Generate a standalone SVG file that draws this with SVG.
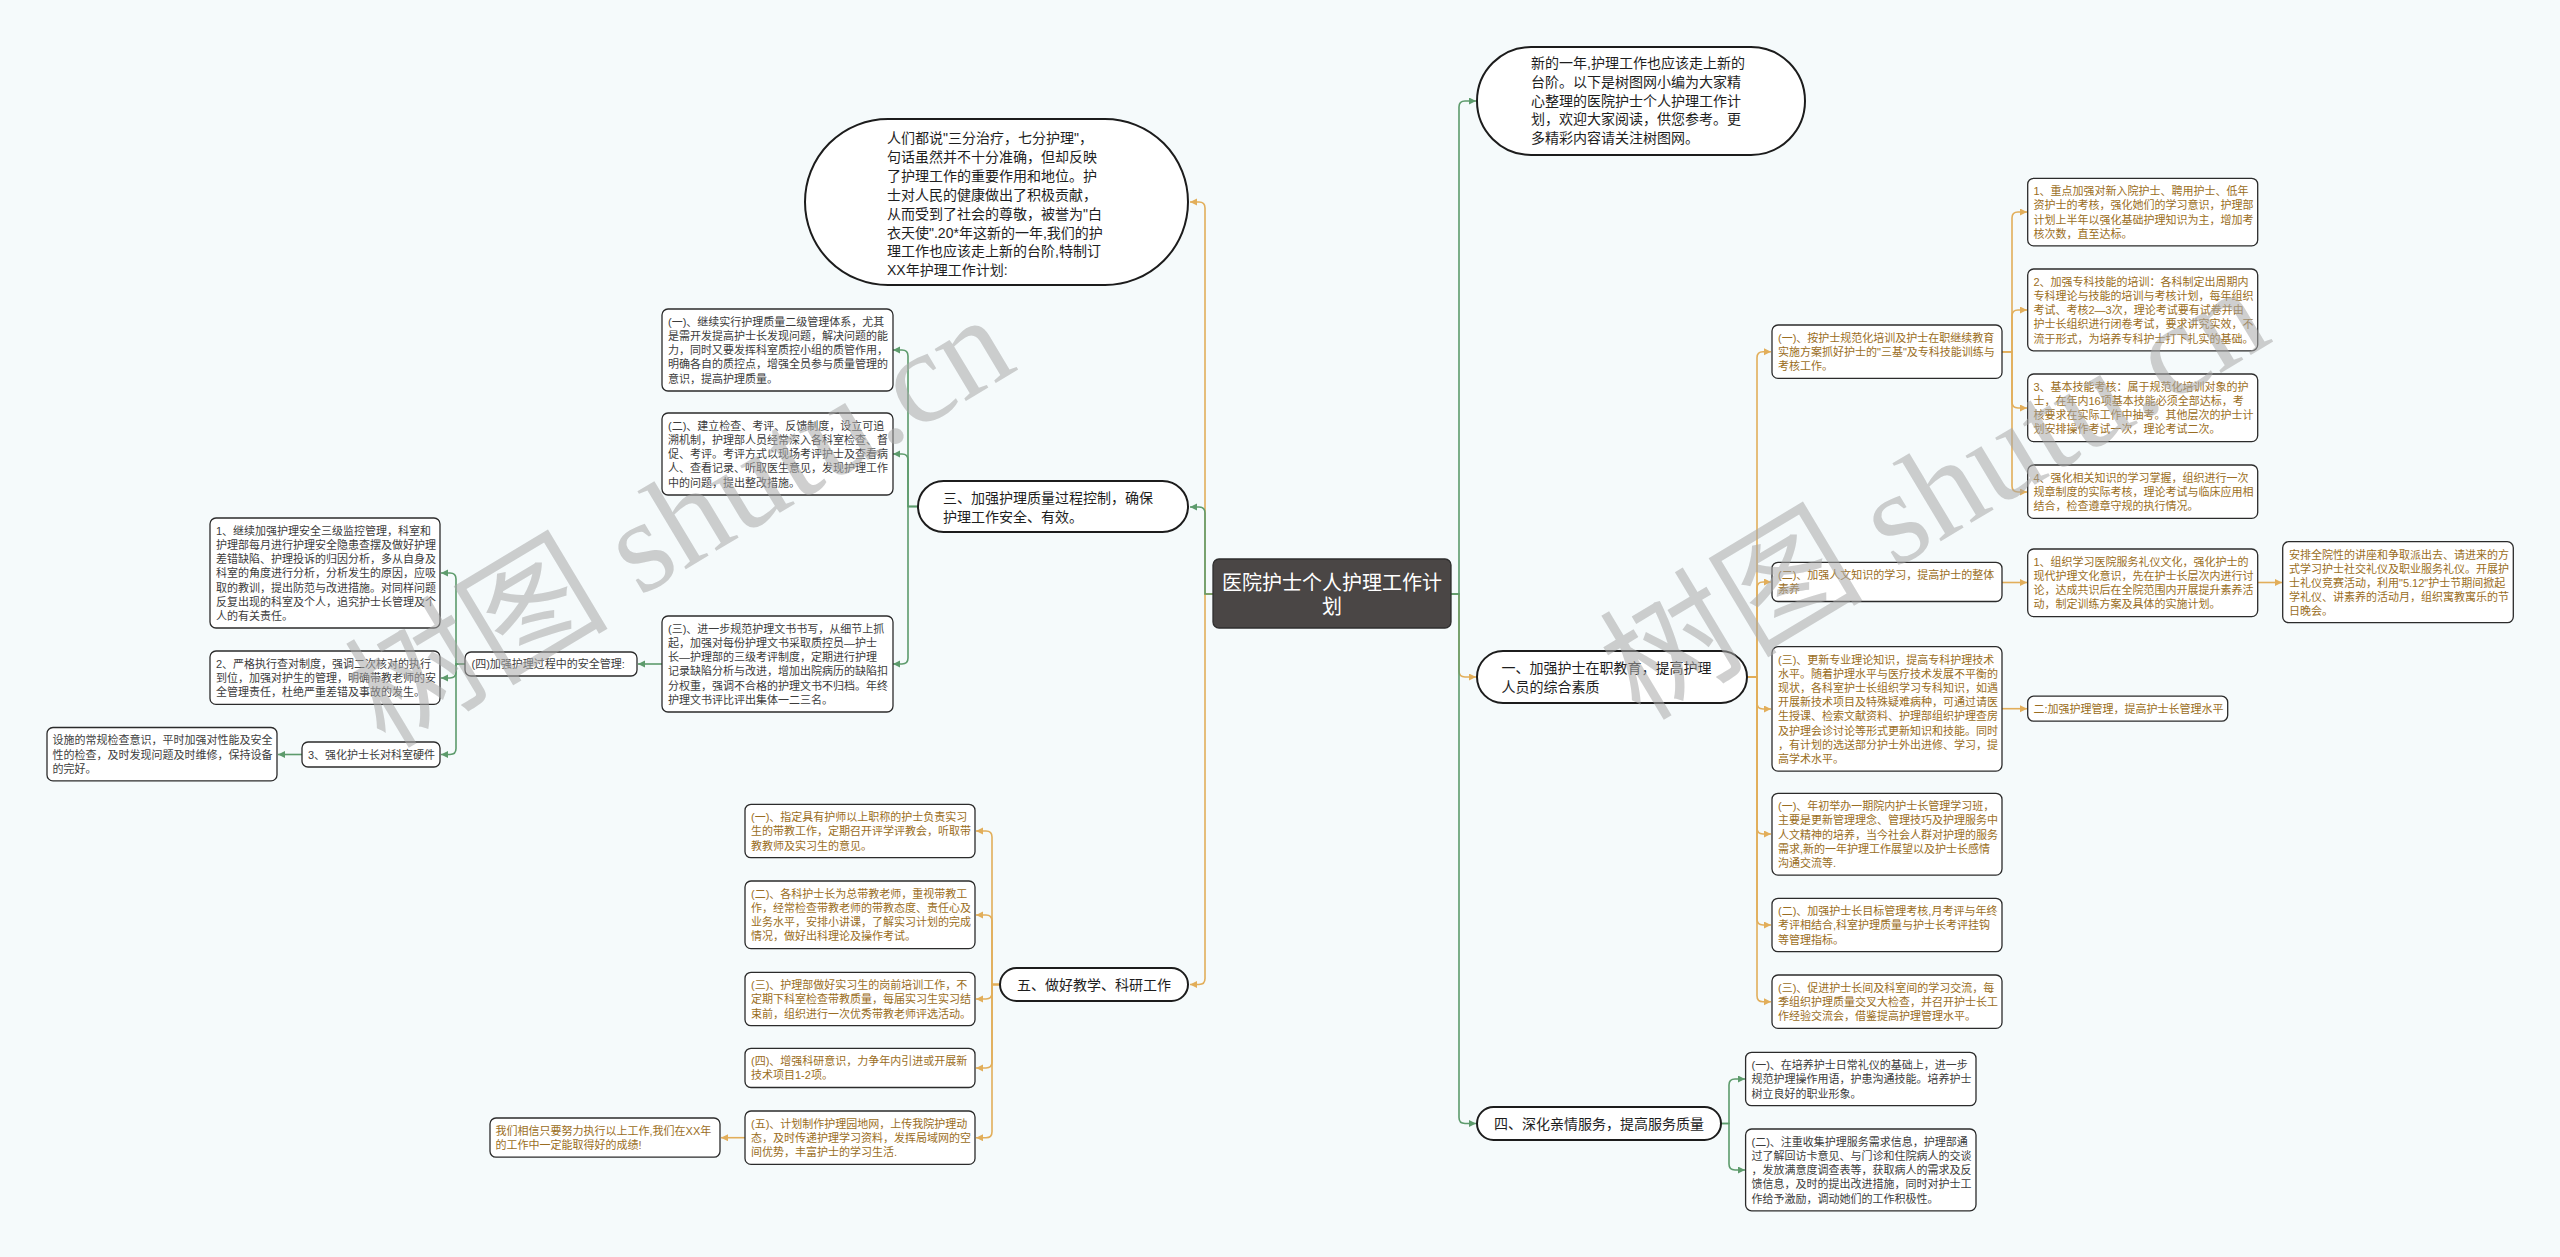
<svg xmlns="http://www.w3.org/2000/svg" width="2560" height="1257" viewBox="0 0 2560 1257">
<defs>
<style>
.box{fill:#fff;stroke:#2b2b2b;stroke-width:1.3}
.bub{fill:#fff;stroke:#1c1c1c;stroke-width:2}
text{font-family:"Liberation Sans","Noto Sans CJK SC",sans-serif}
.o{font-size:11px;fill:#9a6d22}
.g{font-size:11px;fill:#3c3c3c}
.b{font-size:14px;fill:#1e1e1e}
.r{font-size:20px;fill:#fff}
.co{fill:none;stroke:#e2ae5a;stroke-width:1.6}
.cg{fill:none;stroke:#5d9b6c;stroke-width:1.6}
.wm{font-family:"Liberation Serif","Noto Sans CJK SC",serif;font-size:132px;fill:#a8a8a8;fill-opacity:0.55}
</style>
<marker id="ao" markerUnits="userSpaceOnUse" markerWidth="8" markerHeight="8" refX="7" refY="3.5" orient="auto"><path d="M0,0 L7,3.5 L0,7 z" fill="#e2ae5a"/></marker>
<marker id="ag" markerUnits="userSpaceOnUse" markerWidth="8" markerHeight="8" refX="7" refY="3.5" orient="auto"><path d="M0,0 L7,3.5 L0,7 z" fill="#5d9b6c"/></marker>
</defs>
<rect width="2560" height="1257" fill="#f5fafb"/>

<g id="connectors">
<g class="co" marker-end="url(#ao)">
<path d="M1213 594 H1205 V208 Q1205 202 1199 202 H1190"/>
<path d="M1213 594 H1205 V978.5 Q1205 984.5 1199 984.5 H1190"/>
<path d="M1451 594 H1459 V671 Q1459 677 1465 677 H1476"/>
<path d="M1000 984.5 H992 V837 Q992 831 986 831 H976"/>
<path d="M1000 984.5 H992 V921 Q992 915 986 915 H976"/>
<path d="M1000 984.5 H992 V993 Q992 999 986 999 H976"/>
<path d="M1000 984.5 H992 V1062 Q992 1068 986 1068 H976"/>
<path d="M1000 984.5 H992 V1131.7 Q992 1137.7 986 1137.7 H976"/>
<path d="M745 1137.7 H721"/>
<path d="M1747 677 H1757 V357.7 Q1757 351.7 1763 351.7 H1771"/>
<path d="M1747 677 H1757 V588 Q1757 582 1763 582 H1771"/>
<path d="M1747 677 H1757 V703 Q1757 709 1763 709 H1771"/>
<path d="M1747 677 H1757 V828 Q1757 834 1763 834 H1771"/>
<path d="M1747 677 H1757 V919 Q1757 925 1763 925 H1771"/>
<path d="M1747 677 H1757 V995.7 Q1757 1001.7 1763 1001.7 H1771"/>
<path d="M2002 351.7 H2012 V218 Q2012 212 2018 212 H2027"/>
<path d="M2002 351.7 H2012 V316 Q2012 310 2018 310 H2027"/>
<path d="M2002 351.7 H2012 V402 Q2012 408 2018 408 H2027"/>
<path d="M2002 351.7 H2012 V486 Q2012 492 2018 492 H2027"/>
<path d="M2002 582.5 H2027"/>
<path d="M2258 582.5 H2282"/>
<path d="M2002 708.7 H2027"/>
</g>
<g class="cg" marker-end="url(#ag)">
<path d="M1213 594 H1205 V513 Q1205 507 1199 507 H1190"/>
<path d="M1451 594 H1459 V107 Q1459 101 1465 101 H1476"/>
<path d="M1451 594 H1459 V1117.5 Q1459 1123.5 1465 1123.5 H1476"/>
<path d="M918 506.5 H908 V356 Q908 350 902 350 H893"/>
<path d="M918 506.5 H908 V460 Q908 454 902 454 H893"/>
<path d="M918 506.5 H908 V658 Q908 664 902 664 H893"/>
<path d="M662 664 H638"/>
<path d="M465 664 H456 V579 Q456 573 450 573 H441"/>
<path d="M465 664 H456 V672 Q456 678 450 678 H441"/>
<path d="M465 664 H456 V748.5 Q456 754.5 450 754.5 H441"/>
<path d="M302 754.5 H278"/>
<path d="M1721 1123.5 H1729 V1085 Q1729 1079 1735 1079 H1745"/>
<path d="M1721 1123.5 H1729 V1164 Q1729 1170 1735 1170 H1745"/>
</g>
</g>

<g id="root">
<rect x="1213" y="559" width="238" height="69" rx="6" fill="#4a4645" stroke="#2e2e2e" stroke-width="1.3"/>
<text class="r" text-anchor="middle" x="1332" y="590"><tspan x="1332">医院护士个人护理工作计</tspan><tspan x="1332" dy="24">划</tspan></text>
</g>

<g id="intro">
<rect class="bub" x="805" y="119" width="383" height="166" rx="83"/>
<text class="b" x="887" y="143.3"><tspan x="887">人们都说"三分治疗，七分护理"，</tspan><tspan x="887" dy="18.86">句话虽然并不十分准确，但却反映</tspan><tspan x="887" dy="18.86">了护理工作的重要作用和地位。护</tspan><tspan x="887" dy="18.86">士对人民的健康做出了积极贡献，</tspan><tspan x="887" dy="18.86">从而受到了社会的尊敬，被誉为"白</tspan><tspan x="887" dy="18.86">衣天使".20*年这新的一年,我们的护</tspan><tspan x="887" dy="18.86">理工作也应该走上新的台阶,特制订</tspan><tspan x="887" dy="18.86">XX年护理工作计划:</tspan></text>
</g>

<g id="topnote">
<rect class="bub" x="1477" y="47" width="328" height="108" rx="54"/>
<text class="b" x="1531" y="68"><tspan x="1531">新的一年,护理工作也应该走上新的</tspan><tspan x="1531" dy="18.75">台阶。以下是树图网小编为大家精</tspan><tspan x="1531" dy="18.75">心整理的医院护士个人护理工作计</tspan><tspan x="1531" dy="18.75">划，欢迎大家阅读，供您参考。更</tspan><tspan x="1531" dy="18.75">多精彩内容请关注树图网。</tspan></text>
</g>

<g id="b3">
<rect class="bub" x="918" y="481" width="270" height="51" rx="25.5"/>
<text class="b" x="943" y="503"><tspan x="943">三、加强护理质量过程控制，确保</tspan><tspan x="943" dy="19">护理工作安全、有效。</tspan></text>
</g>
<g id="b3-1">
<rect class="box" x="662" y="309" width="231" height="82" rx="6"/>
<text class="g" x="668" y="325.8"><tspan x="668">(一)、继续实行护理质量二级管理体系，尤其</tspan><tspan x="668" dy="14.2">是需开发提高护士长发现问题，解决问题的能</tspan><tspan x="668" dy="14.2">力，同时又要发挥科室质控小组的质管作用，</tspan><tspan x="668" dy="14.2">明确各自的质控点，增强全员参与质量管理的</tspan><tspan x="668" dy="14.2">意识，提高护理质量。</tspan></text>
</g>
<g id="b3-2">
<rect class="box" x="662" y="413" width="231" height="82" rx="6"/>
<text class="g" x="668" y="429.8"><tspan x="668">(二)、建立检查、考评、反馈制度，设立可追</tspan><tspan x="668" dy="14.2">溯机制，护理部人员经常深入各科室检查、督</tspan><tspan x="668" dy="14.2">促、考评。考评方式以现场考评护士及查看病</tspan><tspan x="668" dy="14.2">人、查看记录、听取医生意见，发现护理工作</tspan><tspan x="668" dy="14.2">中的问题，提出整改措施。</tspan></text>
</g>
<g id="b3-3">
<rect class="box" x="662" y="616" width="231" height="96" rx="6"/>
<text class="g" x="668" y="632.8"><tspan x="668">(三)、进一步规范护理文书书写，从细节上抓</tspan><tspan x="668" dy="14.2">起，加强对每份护理文书采取质控员—护士</tspan><tspan x="668" dy="14.2">长—护理部的三级考评制度，定期进行护理</tspan><tspan x="668" dy="14.2">记录缺陷分析与改进，增加出院病历的缺陷扣</tspan><tspan x="668" dy="14.2">分权重，强调不合格的护理文书不归档。年终</tspan><tspan x="668" dy="14.2">护理文书评比评出集体一二三名。</tspan></text>
</g>
<g id="b3-4">
<rect class="box" x="465" y="652" width="172" height="24" rx="6"/>
<text class="g" x="471.5" y="668">(四)加强护理过程中的安全管理:</text>
</g>
<g id="b3-4-1">
<rect class="box" x="210" y="518" width="230" height="110" rx="6"/>
<text class="g" x="216" y="534.8"><tspan x="216">1、继续加强护理安全三级监控管理，科室和</tspan><tspan x="216" dy="14.2">护理部每月进行护理安全隐患查摆及做好护理</tspan><tspan x="216" dy="14.2">差错缺陷、护理投诉的归因分析，多从自身及</tspan><tspan x="216" dy="14.2">科室的角度进行分析，分析发生的原因，应吸</tspan><tspan x="216" dy="14.2">取的教训，提出防范与改进措施。对同样问题</tspan><tspan x="216" dy="14.2">反复出现的科室及个人，追究护士长管理及个</tspan><tspan x="216" dy="14.2">人的有关责任。</tspan></text>
</g>
<g id="b3-4-2">
<rect class="box" x="210" y="651" width="230" height="53.4" rx="6"/>
<text class="g" x="216" y="667.8"><tspan x="216">2、严格执行查对制度，强调二次核对的执行</tspan><tspan x="216" dy="14.2">到位，加强对护生的管理，明确带教老师的安</tspan><tspan x="216" dy="14.2">全管理责任，杜绝严重差错及事故的发生。</tspan></text>
</g>
<g id="b3-4-3">
<rect class="box" x="302" y="742" width="138" height="25" rx="6"/>
<text class="g" x="308" y="758.5">3、强化护士长对科室硬件</text>
</g>
<g id="b3-4-3-1">
<rect class="box" x="47" y="727.5" width="230" height="53.4" rx="6"/>
<text class="g" x="52.5" y="744.3"><tspan x="52.5">设施的常规检查意识，平时加强对性能及安全</tspan><tspan x="52.5" dy="14.2">性的检查，及时发现问题及时维修，保持设备</tspan><tspan x="52.5" dy="14.2">的完好。</tspan></text>
</g>

<g id="b5">
<rect class="bub" x="1000" y="968" width="188" height="33" rx="16.5"/>
<text class="b" text-anchor="middle" x="1094" y="989.5">五、做好教学、科研工作</text>
</g>
<g id="b5-1">
<rect class="box" x="745" y="804.3" width="230" height="53.4" rx="6"/>
<text class="o" x="751" y="821.1"><tspan x="751">(一)、指定具有护师以上职称的护士负责实习</tspan><tspan x="751" dy="14.2">生的带教工作，定期召开评学评教会，听取带</tspan><tspan x="751" dy="14.2">教教师及实习生的意见。</tspan></text>
</g>
<g id="b5-2">
<rect class="box" x="745" y="881" width="230" height="67.6" rx="6"/>
<text class="o" x="751" y="897.8"><tspan x="751">(二)、各科护士长为总带教老师，重视带教工</tspan><tspan x="751" dy="14.2">作，经常检查带教老师的带教态度、责任心及</tspan><tspan x="751" dy="14.2">业务水平，安排小讲课，了解实习计划的完成</tspan><tspan x="751" dy="14.2">情况，做好出科理论及操作考试。</tspan></text>
</g>
<g id="b5-3">
<rect class="box" x="745" y="972.3" width="230" height="53.4" rx="6"/>
<text class="o" x="751" y="989.1"><tspan x="751">(三)、护理部做好实习生的岗前培训工作，不</tspan><tspan x="751" dy="14.2">定期下科室检查带教质量，每届实习生实习结</tspan><tspan x="751" dy="14.2">束前，组织进行一次优秀带教老师评选活动。</tspan></text>
</g>
<g id="b5-4">
<rect class="box" x="745" y="1048.3" width="230" height="39.2" rx="6"/>
<text class="o" x="751" y="1065.1"><tspan x="751">(四)、增强科研意识，力争年内引进或开展新</tspan><tspan x="751" dy="14.2">技术项目1-2项。</tspan></text>
</g>
<g id="b5-5">
<rect class="box" x="745" y="1111" width="230" height="53.4" rx="6"/>
<text class="o" x="751" y="1127.8"><tspan x="751">(五)、计划制作护理园地网，上传我院护理动</tspan><tspan x="751" dy="14.2">态，及时传递护理学习资料，发挥局域网的空</tspan><tspan x="751" dy="14.2">间优势，丰富护士的学习生活.</tspan></text>
</g>
<g id="b5-5-1">
<rect class="box" x="490" y="1118" width="230" height="39.2" rx="6"/>
<text class="o" x="495.5" y="1134.8"><tspan x="495.5">我们相信只要努力执行以上工作,我们在XX年</tspan><tspan x="495.5" dy="14.2">的工作中一定能取得好的成绩!</tspan></text>
</g>

<g id="b1">
<rect class="bub" x="1477" y="651" width="270" height="52" rx="26"/>
<text class="b" x="1501.5" y="673"><tspan x="1501.5">一、加强护士在职教育，提高护理</tspan><tspan x="1501.5" dy="19">人员的综合素质</tspan></text>
</g>
<g id="b1-1">
<rect class="box" x="1772" y="325" width="230" height="53.4" rx="6"/>
<text class="o" x="1778" y="341.8"><tspan x="1778">(一)、按护士规范化培训及护士在职继续教育</tspan><tspan x="1778" dy="14.2">实施方案抓好护士的"三基"及专科技能训练与</tspan><tspan x="1778" dy="14.2">考核工作。</tspan></text>
</g>
<g id="b1-1-1">
<rect class="box" x="2027.7" y="178.3" width="230" height="67.6" rx="6"/>
<text class="o" x="2033.5" y="195.1"><tspan x="2033.5">1、重点加强对新入院护士、聘用护士、低年</tspan><tspan x="2033.5" dy="14.2">资护士的考核，强化她们的学习意识，护理部</tspan><tspan x="2033.5" dy="14.2">计划上半年以强化基础护理知识为主，增加考</tspan><tspan x="2033.5" dy="14.2">核次数，直至达标。</tspan></text>
</g>
<g id="b1-1-2">
<rect class="box" x="2027.7" y="269" width="230" height="81.8" rx="6"/>
<text class="o" x="2033.5" y="285.8"><tspan x="2033.5">2、加强专科技能的培训：各科制定出周期内</tspan><tspan x="2033.5" dy="14.2">专科理论与技能的培训与考核计划，每年组织</tspan><tspan x="2033.5" dy="14.2">考试、考核2—3次，理论考试要有试卷并由</tspan><tspan x="2033.5" dy="14.2">护士长组织进行闭卷考试，要求讲究实效，不</tspan><tspan x="2033.5" dy="14.2">流于形式，为培养专科护士打下扎实的基础。</tspan></text>
</g>
<g id="b1-1-3">
<rect class="box" x="2027.7" y="374" width="230" height="67.6" rx="6"/>
<text class="o" x="2033.5" y="390.8"><tspan x="2033.5">3、基本技能考核：属于规范化培训对象的护</tspan><tspan x="2033.5" dy="14.2">士，在年内16项基本技能必须全部达标，考</tspan><tspan x="2033.5" dy="14.2">核要求在实际工作中抽考。其他层次的护士计</tspan><tspan x="2033.5" dy="14.2">划安排操作考试一次，理论考试二次。</tspan></text>
</g>
<g id="b1-1-4">
<rect class="box" x="2027.7" y="465" width="230" height="53.4" rx="6"/>
<text class="o" x="2033.5" y="481.8"><tspan x="2033.5">4、强化相关知识的学习掌握，组织进行一次</tspan><tspan x="2033.5" dy="14.2">规章制度的实际考核，理论考试与临床应用相</tspan><tspan x="2033.5" dy="14.2">结合，检查遵章守规的执行情况。</tspan></text>
</g>
<g id="b1-2">
<rect class="box" x="1772" y="562.3" width="230" height="39.2" rx="6"/>
<text class="o" x="1778" y="579.1"><tspan x="1778">(二)、加强人文知识的学习，提高护士的整体</tspan><tspan x="1778" dy="14.2">素养</tspan></text>
</g>
<g id="b1-2-1">
<rect class="box" x="2027.7" y="549" width="230" height="67.6" rx="6"/>
<text class="o" x="2033.5" y="565.8"><tspan x="2033.5">1、组织学习医院服务礼仪文化，强化护士的</tspan><tspan x="2033.5" dy="14.2">现代护理文化意识，先在护士长层次内进行讨</tspan><tspan x="2033.5" dy="14.2">论，达成共识后在全院范围内开展提升素养活</tspan><tspan x="2033.5" dy="14.2">动，制定训练方案及具体的实施计划。</tspan></text>
</g>
<g id="b1-2-1-1">
<rect class="box" x="2282.7" y="541.7" width="230.6" height="81" rx="6"/>
<text class="o" x="2289" y="558.5"><tspan x="2289">安排全院性的讲座和争取派出去、请进来的方</tspan><tspan x="2289" dy="14">式学习护士社交礼仪及职业服务礼仪。开展护</tspan><tspan x="2289" dy="14">士礼仪竞赛活动，利用"5.12"护士节期间掀起</tspan><tspan x="2289" dy="14">学礼仪、讲素养的活动月，组织寓教寓乐的节</tspan><tspan x="2289" dy="14">日晚会。</tspan></text>
</g>
<g id="b1-3">
<rect class="box" x="1772" y="646.7" width="230" height="124.4" rx="6"/>
<text class="o" x="1778" y="663.5"><tspan x="1778">(三)、更新专业理论知识，提高专科护理技术</tspan><tspan x="1778" dy="14.2">水平。随着护理水平与医疗技术发展不平衡的</tspan><tspan x="1778" dy="14.2">现状，各科室护士长组织学习专科知识，如遇</tspan><tspan x="1778" dy="14.2">开展新技术项目及特殊疑难病种，可通过请医</tspan><tspan x="1778" dy="14.2">生授课、检索文献资料、护理部组织护理查房</tspan><tspan x="1778" dy="14.2">及护理会诊讨论等形式更新知识和技能。同时</tspan><tspan x="1778" dy="14.2">，有计划的选送部分护士外出进修、学习，提</tspan><tspan x="1778" dy="14.2">高学术水平。</tspan></text>
</g>
<g id="b1-3-1">
<rect class="box" x="2027.7" y="696.2" width="200" height="25" rx="6"/>
<text class="o" x="2033.5" y="712.7">二:加强护理管理，提高护士长管理水平</text>
</g>
<g id="b1-4">
<rect class="box" x="1772" y="793.3" width="230" height="81.8" rx="6"/>
<text class="o" x="1778" y="810.1"><tspan x="1778">(一)、年初举办一期院内护士长管理学习班，</tspan><tspan x="1778" dy="14.2">主要是更新管理理念、管理技巧及护理服务中</tspan><tspan x="1778" dy="14.2">人文精神的培养，当今社会人群对护理的服务</tspan><tspan x="1778" dy="14.2">需求,新的一年护理工作展望以及护士长感情</tspan><tspan x="1778" dy="14.2">沟通交流等.</tspan></text>
</g>
<g id="b1-5">
<rect class="box" x="1772" y="898.3" width="230" height="53.4" rx="6"/>
<text class="o" x="1778" y="915.1"><tspan x="1778">(二)、加强护士长目标管理考核,月考评与年终</tspan><tspan x="1778" dy="14.2">考评相结合,科室护理质量与护士长考评挂钩</tspan><tspan x="1778" dy="14.2">等管理指标。</tspan></text>
</g>
<g id="b1-6">
<rect class="box" x="1772" y="975" width="230" height="53.4" rx="6"/>
<text class="o" x="1778" y="991.8"><tspan x="1778">(三)、促进护士长间及科室间的学习交流，每</tspan><tspan x="1778" dy="14.2">季组织护理质量交叉大检查，并召开护士长工</tspan><tspan x="1778" dy="14.2">作经验交流会，借鉴提高护理管理水平。</tspan></text>
</g>

<g id="b4">
<rect class="bub" x="1477" y="1107" width="244" height="33" rx="16.5"/>
<text class="b" text-anchor="middle" x="1599" y="1128.5">四、深化亲情服务，提高服务质量</text>
</g>
<g id="b4-1">
<rect class="box" x="1745.6" y="1052.3" width="230.4" height="53.4" rx="6"/>
<text class="g" x="1751.5" y="1069.1"><tspan x="1751.5">(一)、在培养护士日常礼仪的基础上，进一步</tspan><tspan x="1751.5" dy="14.2">规范护理操作用语，护患沟通技能。培养护士</tspan><tspan x="1751.5" dy="14.2">树立良好的职业形象。</tspan></text>
</g>
<g id="b4-2">
<rect class="box" x="1745.6" y="1129" width="230.4" height="81.8" rx="6"/>
<text class="g" x="1751.5" y="1145.8"><tspan x="1751.5">(二)、注重收集护理服务需求信息，护理部通</tspan><tspan x="1751.5" dy="14.2">过了解回访卡意见、与门诊和住院病人的交谈</tspan><tspan x="1751.5" dy="14.2">，发放满意度调查表等，获取病人的需求及反</tspan><tspan x="1751.5" dy="14.2">馈信息，及时的提出改进措施，同时对护士工</tspan><tspan x="1751.5" dy="14.2">作给予激励，调动她们的工作积极性。</tspan></text>
</g>

<g id="watermark">
<text class="wm" transform="translate(385,750) rotate(-31)">树图 shutu.cn</text>
<text class="wm" transform="translate(1640,722) rotate(-31)">树图 shutu.cn</text>
</g>
</svg>
